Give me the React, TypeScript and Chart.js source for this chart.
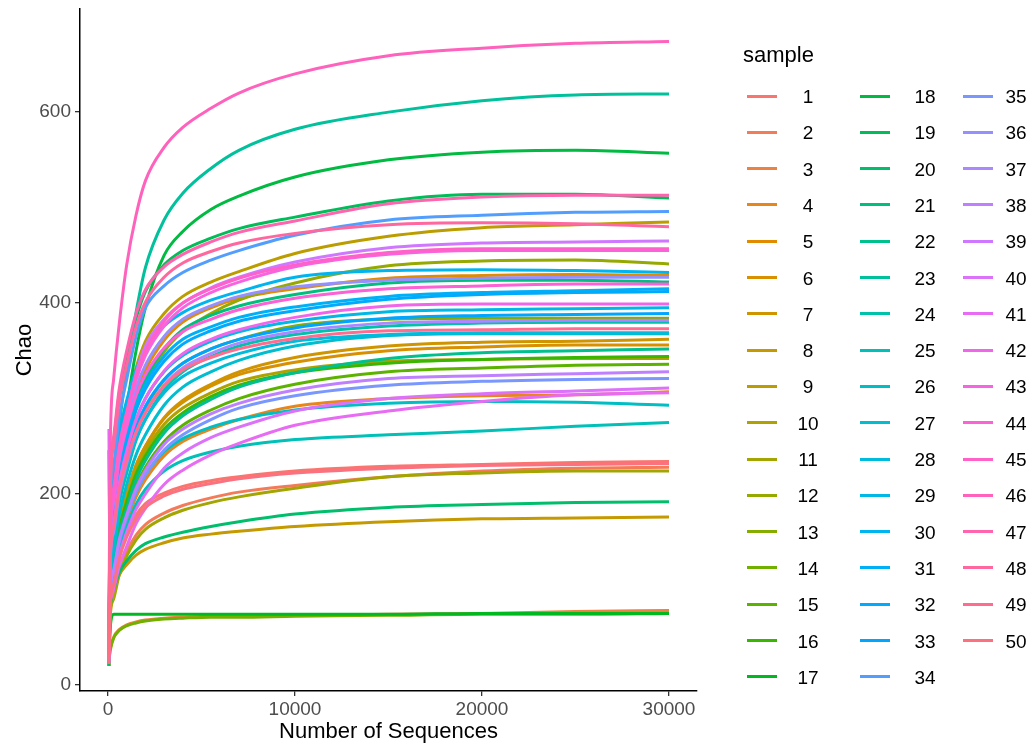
import React, { useEffect, useRef } from 'react';
import { Chart, registerables } from 'chart.js';
Chart.register(...registerables);

// sequencing depths (x)
const depths = [50, 120, 300, 600, 1000, 1500, 2000, 3000, 4000, 5500, 7000, 10000, 15000, 20000, 25000, 30000];

// Chao values per sample at each depth
const s1 = [22, 88, 110, 138, 160, 178, 190, 201, 208, 214, 218, 224, 229, 231, 233, 234];
const s2 = [20, 76, 95, 120, 140, 157, 168, 180, 188, 196, 202, 209, 218, 224, 227, 228];
const s3 = [27, 38, 50, 58, 63, 66, 68, 70, 71, 72, 72, 73, 74, 75, 77, 78];
const s4 = [24, 92, 115, 145, 170, 197, 215, 240, 255, 268, 278, 292, 300, 303, 304, 307];
const s5 = [30, 152, 190, 234, 270, 306, 330, 361, 380, 395, 405, 415, 426, 429, 430, 429];
const s6 = [25, 108, 135, 171, 200, 230, 250, 279, 296, 313, 325, 338, 350, 354, 356, 356];
const s7 = [25, 108, 135, 171, 200, 230, 250, 280, 298, 315, 328, 343, 355, 359, 360, 362];
const s8 = [20, 78, 98, 115, 126, 136, 142, 149, 154, 158, 161, 166, 171, 174, 175, 176];
const s9 = [30, 165, 205, 250, 290, 332, 360, 389, 407, 422, 433, 452, 470, 479, 482, 485];
const s10 = [25, 104, 130, 166, 195, 225, 245, 273, 290, 306, 318, 330, 339, 341, 342, 342];
const s11 = [20, 72, 90, 115, 135, 152, 163, 175, 183, 191, 197, 206, 218, 222, 224, 224];
const s12 = [28, 136, 170, 214, 250, 289, 315, 349, 370, 389, 403, 421, 439, 444, 445, 441];
const s13 = [26, 128, 160, 201, 235, 268, 290, 319, 337, 352, 362, 376, 383, 384, 384, 384];
const s14 = [25, 36, 49, 57, 62, 65, 67, 69, 70, 71, 71, 72, 73, 74, 74, 75];
const s15 = [25, 96, 120, 153, 180, 209, 228, 255, 272, 288, 300, 315, 328, 332, 335, 336];
const s16 = [25, 102, 128, 163, 192, 221, 240, 268, 285, 302, 314, 327, 337, 341, 343, 344];
const s17 = [28, 60, 74, 74, 74, 74, 74, 74, 74, 74, 74, 74, 74, 75, 75, 75];
const s18 = [35, 130, 170, 230, 290, 350, 395, 450, 475, 498, 512, 532, 550, 558, 560, 557];
const s19 = [40, 204, 255, 305, 345, 384, 412, 440, 455, 468, 478, 490, 507, 514, 514, 510];
const s20 = [20, 80, 100, 118, 130, 141, 148, 155, 160, 166, 171, 179, 186, 189, 191, 192];
const s21 = [28, 144, 180, 224, 260, 296, 320, 352, 372, 387, 397, 409, 421, 424, 424, 422];
const s22 = [24, 100, 125, 158, 185, 215, 235, 264, 282, 299, 312, 327, 342, 348, 350, 352];
const s23 = [40, 160, 200, 270, 330, 390, 437, 487, 515, 541, 560, 582, 600, 612, 618, 619];
const s24 = [28, 120, 150, 190, 222, 256, 278, 309, 328, 344, 355, 367, 376, 379, 380, 380];
const s25 = [22, 88, 110, 140, 165, 189, 205, 224, 235, 244, 250, 257, 262, 266, 271, 275];
const s26 = [24, 92, 115, 148, 175, 202, 220, 244, 258, 270, 278, 288, 295, 297, 296, 293];
const s27 = [246, 120, 140, 178, 210, 241, 262, 293, 312, 328, 340, 355, 366, 368, 368, 368];
const s28 = [28, 128, 160, 197, 228, 258, 278, 306, 323, 337, 347, 360, 367, 369, 369, 369];
const s29 = [30, 140, 175, 214, 245, 278, 300, 328, 345, 360, 370, 381, 391, 393, 394, 395];
const s30 = [35, 175, 218, 262, 298, 330, 352, 376, 390, 403, 412, 427, 434, 435, 434, 432];
const s31 = [30, 148, 185, 226, 260, 293, 315, 344, 362, 375, 385, 396, 407, 411, 413, 415];
const s32 = [30, 144, 180, 221, 255, 288, 310, 339, 357, 371, 381, 392, 404, 409, 411, 412];
const s33 = [28, 134, 168, 206, 238, 270, 292, 320, 337, 352, 362, 374, 384, 387, 388, 389];
const s34 = [35, 185, 230, 280, 320, 365, 395, 418, 432, 445, 455, 471, 487, 492, 495, 496];
const s35 = [24, 94, 118, 149, 175, 202, 220, 246, 262, 278, 290, 303, 314, 318, 320, 321];
const s36 = [30, 152, 190, 237, 275, 311, 335, 365, 383, 397, 407, 417, 424, 426, 427, 427];
const s37 = [28, 128, 160, 200, 232, 264, 285, 314, 332, 347, 358, 370, 379, 381, 382, 382];
const s38 = [25, 96, 120, 152, 178, 206, 225, 252, 268, 284, 295, 309, 321, 324, 326, 328];
const s39 = [30, 160, 200, 245, 282, 326, 355, 383, 400, 416, 427, 443, 458, 463, 464, 465];
const s40 = [22, 84, 105, 135, 160, 184, 200, 227, 243, 259, 270, 287, 300, 305, 308, 311];
const s41 = [268, 90, 100, 124, 145, 169, 185, 210, 225, 241, 253, 272, 287, 297, 304, 306];
const s42 = [28, 136, 170, 211, 245, 278, 300, 329, 347, 362, 372, 385, 397, 399, 399, 399];
const s43 = [30, 156, 195, 242, 280, 319, 345, 376, 395, 411, 422, 438, 451, 455, 455, 455];
const s44 = [32, 156, 195, 236, 270, 303, 325, 353, 370, 383, 393, 405, 415, 418, 420, 420];
const s45 = [35, 165, 206, 250, 286, 324, 350, 381, 400, 415, 426, 440, 453, 457, 457, 457];
const s46 = [60, 250, 320, 378, 440, 492, 528, 563, 584, 604, 620, 640, 659, 667, 672, 674];
const s47 = [45, 208, 260, 310, 350, 389, 414, 438, 451, 464, 474, 486, 504, 511, 513, 513];
const s48 = [45, 200, 250, 297, 335, 375, 401, 427, 442, 454, 463, 473, 482, 484, 483, 480];
const s49 = [30, 132, 165, 204, 235, 265, 285, 313, 330, 343, 352, 363, 371, 372, 373, 373];
const s50 = [22, 84, 105, 132, 155, 174, 186, 198, 205, 211, 216, 222, 227, 230, 231, 232];

const samples = [s1, s2, s3, s4, s5, s6, s7, s8, s9, s10, s11, s12, s13, s14, s15, s16, s17,
  s18, s19, s20, s21, s22, s23, s24, s25, s26, s27, s28, s29, s30, s31, s32, s33, s34,
  s35, s36, s37, s38, s39, s40, s41, s42, s43, s44, s45, s46, s47, s48, s49, s50];

const sampleNames = ['1', '2', '3', '4', '5', '6', '7', '8', '9', '10', '11', '12', '13', '14', '15', '16', '17',
  '18', '19', '20', '21', '22', '23', '24', '25', '26', '27', '28', '29', '30', '31', '32', '33', '34',
  '35', '36', '37', '38', '39', '40', '41', '42', '43', '44', '45', '46', '47', '48', '49', '50'];

const xTicks = [0, 10000, 20000, 30000];
const yTicks = [0, 200, 400, 600];

// ggplot2 default hue palette (HCL, c=100, l=65)
function hcl(h: number, c: number, l: number): string {
  const hr = (h * Math.PI) / 180;
  const U = c * Math.cos(hr);
  const V = c * Math.sin(hr);
  const Xn = 0.95047, Yn = 1.0, Zn = 1.08883;
  const Y = l > 8 ? Math.pow((l + 16) / 116, 3) : l / 903.3;
  const den = Xn + 15 * Yn + 3 * Zn;
  const un = (4 * Xn) / den, vn = (9 * Yn) / den;
  const u = U / (13 * l) + un;
  const v = V / (13 * l) + vn;
  const X = (9 * Y * u) / (4 * v);
  const Z = (Y * (12 - 3 * u - 20 * v)) / (4 * v);
  const lin = [
    3.2404542 * X - 1.5371385 * Y - 0.4985314 * Z,
    -0.969266 * X + 1.8760108 * Y + 0.041556 * Z,
    0.0556434 * X - 0.2040259 * Y + 1.0572252 * Z,
  ];
  const out = lin.map((x) => {
    const g = x <= 0.0031308 ? 12.92 * x : 1.055 * Math.pow(x, 1 / 2.4) - 0.055;
    const cl = Math.max(0, Math.min(1, g));
    return Math.round(cl * 255).toString(16).padStart(2, '0');
  });
  return '#' + out.join('');
}

const n = samples.length;
const colors = samples.map((_, i) => hcl(15 + (360 / n) * i, 100, 65));

const FONT = "'Liberation Sans', Arial, Helvetica, sans-serif";

export default function App() {
  const ref = useRef<HTMLCanvasElement>(null);
  useEffect(() => {
    Chart.defaults.font.family = FONT;
    const chart = new Chart(ref.current as HTMLCanvasElement, {
      type: 'line',
      data: {
        datasets: samples.map((vals, i) => ({
          label: sampleNames[i],
          data: depths.map((d, j) => ({ x: d, y: vals[j] })),
          borderColor: colors[i],
          backgroundColor: colors[i],
          borderWidth: 3,
          pointRadius: 0,
          fill: false,
          cubicInterpolationMode: 'monotone' as const,
          order: n - i,
        })),
      },
      options: {
        animation: false,
        responsive: false,
        events: [],
        plugins: { legend: { display: false }, tooltip: { enabled: false } },
        layout: { padding: { left: 0, top: 9, right: 337, bottom: 0 } },
        scales: {
          x: {
            type: 'linear',
            min: -1497,
            max: 31498,
            afterBuildTicks: (s: any) => {
              s.ticks = xTicks.map((v) => ({ value: v }));
            },
            afterFit: (s: any) => {
              s.height = 58;
              s.paddingLeft = 0;
              s.paddingRight = 0;
            },
            ticks: {
              callback: (v: any) => String(v),
              color: '#4D4D4D',
              font: { size: 19, family: FONT },
              padding: 2,
              maxRotation: 0,
              autoSkip: false,
            },
            grid: { drawOnChartArea: false, drawTicks: true, tickLength: 5, color: '#333333', lineWidth: 1.3 },
            border: { display: true, color: '#000000', width: 1.5 },
            title: {
              display: true,
              text: 'Number of Sequences',
              color: '#000000',
              font: { size: 22, family: FONT },
              padding: { top: 0, bottom: 4 },
            },
          },
          y: {
            type: 'linear',
            min: -6.3,
            max: 708,
            afterBuildTicks: (s: any) => {
              s.ticks = yTicks.map((v) => ({ value: v }));
            },
            afterFit: (s: any) => {
              s.width = 80;
              s.paddingTop = 0;
              s.paddingBottom = 0;
            },
            ticks: {
              color: '#4D4D4D',
              font: { size: 19, family: FONT },
              padding: 4,
              autoSkip: false,
            },
            grid: { drawOnChartArea: false, drawTicks: true, tickLength: 5, color: '#333333', lineWidth: 1.3 },
            border: { display: true, color: '#000000', width: 1.5 },
            title: {
              display: true,
              text: 'Chao',
              color: '#000000',
              font: { size: 22, family: FONT },
              padding: { top: 12, bottom: 0 },
            },
          },
        },
      },
    } as any);
    return () => chart.destroy();
  }, []);

  const colX = [747, 860, 963];
  const labelCX = [808, 925, 1016];
  const rowY0 = 96;
  const rowStep = 36.3;
  const perCol = 17;

  return (
    <div style={{ position: 'absolute', left: 0, top: 0, width: 1034, height: 749, background: '#fff', fontFamily: FONT }}>
      <canvas ref={ref} width={1034} height={749} style={{ position: 'absolute', left: 0, top: 0 }} />
      <div style={{ position: 'absolute', left: 743, top: 55, transform: 'translateY(-50%)', fontSize: 22, lineHeight: '22px', color: '#000' }}>
        sample
      </div>
      {sampleNames.map((name, i) => {
        const col = Math.floor(i / perCol);
        const row = i % perCol;
        const cy = rowY0 + row * rowStep;
        return (
          <React.Fragment key={name}>
            <div style={{ position: 'absolute', left: colX[col], top: cy - 1.5, width: 30, height: 3, background: colors[i] }} />
            <div style={{ position: 'absolute', left: labelCX[col] - 20, top: cy, width: 40, textAlign: 'center', transform: 'translateY(-50%)', fontSize: 19, lineHeight: '19px', color: '#000' }}>
              {name}
            </div>
          </React.Fragment>
        );
      })}
    </div>
  );
}
